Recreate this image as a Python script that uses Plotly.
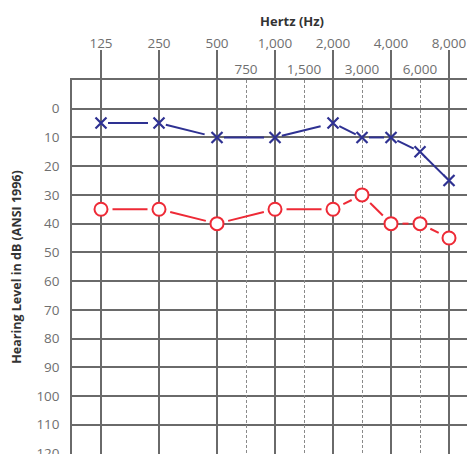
import math
import plotly.graph_objects as go

# ---- data ----
octave_freqs = [125, 250, 500, 1000, 2000, 4000, 8000]
octave_labels = ["125", "250", "500", "1,000", "2,000", "4,000", "8,000"]
half_freqs = [750, 1500, 3000, 6000]
half_labels = ["750", "1,500", "3,000", "6,000"]

test_freqs = [125, 250, 500, 1000, 2000, 3000, 4000, 6000, 8000]
left_ear_x = [5, 5, 10, 10, 5, 10, 10, 15, 25]       # blue X
right_ear_o = [35, 35, 40, 35, 35, 30, 40, 40, 45]   # red O

y_ticks = list(range(0, 130, 10))

# ---- layout constants (page body has an 8px default margin) ----
W, H = 467, 446
ML, MT, MR, MB = 64, 72, 0, 0
XR = [-0.5, 6.448]
YR = [120.2, -10]
PW, PH = W - ML - MR, H - MT - MB
SX = PW / (XR[1] - XR[0])
SY = PH / abs(YR[1] - YR[0])

BLUE = "#2e3192"
RED = "#ee2a36"
GRID = "#6a6a6a"


def audiogram_pos(f):
    # octave index from 125 Hz; inter-octave frequencies sit midway
    return round(2 * math.log2(f / 125)) / 2


def gapped(xs, ys, gap):
    """Line segments between consecutive points, shortened near markers."""
    ox, oy = [], []
    for i in range(len(xs) - 1):
        dx = (xs[i + 1] - xs[i]) * SX
        dy = (ys[i + 1] - ys[i]) * SY
        L = math.hypot(dx, dy)
        t = gap / L
        ox += [xs[i] + (xs[i + 1] - xs[i]) * t, xs[i + 1] - (xs[i + 1] - xs[i]) * t, None]
        oy += [ys[i] + (ys[i + 1] - ys[i]) * t, ys[i + 1] - (ys[i + 1] - ys[i]) * t, None]
    return ox, oy


px = [audiogram_pos(f) for f in test_freqs]

fig = go.Figure()

rx, ry = gapped(px, right_ear_o, 11.5)
fig.add_trace(go.Scatter(x=rx, y=ry, mode="lines", line=dict(color=RED, width=2),
                         hoverinfo="skip", showlegend=False))
bx, by = gapped(px, left_ear_x, 7)
fig.add_trace(go.Scatter(x=bx, y=by, mode="lines",
                         line=dict(color=BLUE, width=2, dash="40px,6px"),
                         hoverinfo="skip", showlegend=False))
fig.add_trace(go.Scatter(x=px, y=right_ear_o, mode="markers",
                         marker=dict(symbol="circle", size=13, color="white",
                                     line=dict(color=RED, width=2)),
                         showlegend=False))
fig.add_trace(go.Scatter(x=px, y=left_ear_x, mode="markers",
                         marker=dict(symbol="x-thin-open", size=11, color=BLUE,
                                     line=dict(color=BLUE, width=2.2)),
                         showlegend=False))
# invisible trace to carry the half-octave label axis
fig.add_trace(go.Scatter(x=[audiogram_pos(f) for f in half_freqs], y=[None] * len(half_freqs),
                         xaxis="x2", mode="markers", showlegend=False, hoverinfo="skip"))

tickfont = dict(family="Open Sans", size=13.5, color="#6f6f6f")

fig.update_layout(
    width=W, height=H,
    margin=dict(l=ML, t=MT, r=MR, b=MB, autoexpand=False),
    paper_bgcolor="white", plot_bgcolor="white",
    font=dict(family="Open Sans"),
    title=dict(text="<b>Hertz (Hz)</b>", x=284 / W, xref="container", xanchor="center",
               y=1 - 13 / H, yref="container", yanchor="middle",
               font=dict(family="Open Sans", size=13, color="#333333")),
    xaxis=dict(
        side="top", range=XR, showgrid=True, gridcolor=GRID, gridwidth=1.5,
        tickvals=[audiogram_pos(f) for f in octave_freqs], ticktext=octave_labels,
        ticks="outside", ticklen=28, tickwidth=1.5, tickcolor=GRID,
        ticklabelstandoff=-3, automargin=False, ticklabeloverflow="allow",
        showline=True, linecolor=GRID, linewidth=1.5,
        tickfont=tickfont, zeroline=False, fixedrange=True,
    ),
    xaxis2=dict(
        overlaying="x", matches="x", side="top", range=XR, automargin=False,
        tickvals=[audiogram_pos(f) for f in half_freqs], ticktext=half_labels,
        ticks="", showgrid=True, gridcolor="#8a8a8a", gridwidth=1.3, griddash="3px,2px",
        ticklabelstandoff=2, showline=False, zeroline=False, tickfont=tickfont,
    ),
    yaxis=dict(
        range=YR, tickvals=y_ticks, showgrid=True, gridcolor=GRID, gridwidth=1.5,
        ticks="", ticklabelstandoff=8, showline=True, linecolor=GRID, linewidth=1.5,
        zeroline=False, tickfont=tickfont, automargin=False, ticklabeloverflow="allow",
        title=dict(text="<b>Hearing Level in dB (ANSI 1996)</b>", standoff=14,
                   font=dict(family="Open Sans", size=12.5, color="#333333")),
    ),
)

fig.write_html("out.html")
